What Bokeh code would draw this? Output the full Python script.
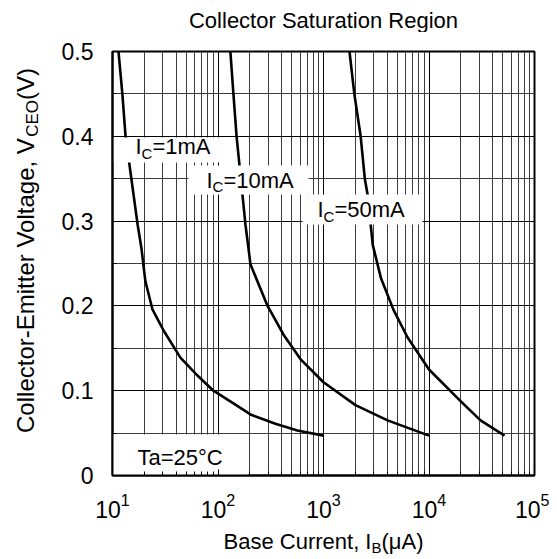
import math
from bokeh.plotting import figure
from bokeh.models import Range1d, FixedTicker, Label
from bokeh.layouts import row, column
from bokeh.embed import file_html
from bokeh.resources import INLINE

# ---- data (base current in uA, collector-emitter voltage in V) ----
ib_1mA = [11.4, 12.4, 13.3, 17.3, 18.8, 20.5, 23.9, 30.5, 44, 65, 90.5, 140, 203, 350, 566, 1000]
v_1mA = [0.5, 0.45, 0.4, 0.296, 0.268, 0.229, 0.196, 0.171, 0.139, 0.117, 0.100, 0.085, 0.072, 0.061, 0.053, 0.047]

ib_10mA = [131, 140, 150, 182, 194, 203, 295, 418, 607, 1000, 2010, 4050, 10000]
v_10mA = [0.5, 0.45, 0.4, 0.296, 0.269, 0.249, 0.200, 0.166, 0.137, 0.110, 0.083, 0.065, 0.047]

ib_50mA = [1763, 1960, 2250, 2470, 2620, 2930, 3500, 4620, 6250, 10000, 19800, 30800, 52000]
v_50mA = [0.5, 0.45, 0.4, 0.349, 0.331, 0.272, 0.233, 0.195, 0.163, 0.125, 0.088, 0.065, 0.047]

x_major = [10, 100, 1000, 10000, 100000]
x_minor = [m * 10 ** e for e in range(1, 5) for m in range(2, 10)]
y_major = [0, 0.1, 0.2, 0.3, 0.4, 0.5]
y_minor = [0.05, 0.15, 0.25, 0.35, 0.45]

FONT = "Liberation Sans"
FRAME_W, FRAME_H = 422, 424
X0, X1, Y0, Y1 = 10, 1e5, 0, 0.5
DEC = FRAME_W / math.log10(X1 / X0)

TITLE_H = 32         # title strip height
LEFT_W = 48          # width of the y-label strip
MAIN_LEFT = 64       # border left of the frame inside the main figure
TOP, RIGHT, BOTTOM = 19, 15, 55
MAIN_W = MAIN_LEFT + FRAME_W + RIGHT
XLAB_H = 26
TOTAL_W = LEFT_W + MAIN_W


def dx(fx):
    return X0 * 10 ** (fx / DEC)


def dy(fy):
    return Y0 + fy / FRAME_H * (Y1 - Y0)


# Arial / Liberation Sans advance widths (per 1000 em)
W = {' ': 278, ',': 278, '-': 333, '(': 333, ')': 333, '=': 584, '.': 278, '°': 400,
     'A': 667, 'B': 667, 'C': 722, 'E': 667, 'I': 278, 'O': 778, 'R': 722, 'S': 667,
     'T': 611, 'V': 667, 'a': 556, 'c': 500, 'e': 556, 'g': 556, 'i': 222, 'l': 222,
     'm': 833, 'n': 556, 'o': 556, 'r': 333, 's': 500, 't': 278, 'u': 556, 'μ': 576}
for d in "0123456789":
    W[d] = 556


def tw(s, size):
    return sum(W.get(c, 556) for c in s) * size / 1000


def total(parts):
    return sum(tw(t, s) for t, s, _ in parts)


def rich(fig, parts, fx, fy, angle=0.0, cx=lambda v: v, cy=lambda v: v):
    """Lay text pieces one after another; fy/fx give the middle line of the main text."""
    pos = 0.0
    for text, size, shift in parts:
        if angle == 0:
            x, y = fx + pos, fy - shift
        else:
            x, y = fx + shift, fy + pos
        fig.add_layout(Label(x=cx(x), y=cy(y), text=text, text_font=FONT,
                             text_font_size=f"{size}px", text_color="black",
                             text_align="left", text_baseline="middle",
                             angle=angle))
        pos += tw(text, size)


def blank(w, h, top=0, bottom=0):
    f = figure(frame_width=w, frame_height=h, x_range=Range1d(0, w), y_range=Range1d(0, h),
               min_border_left=0, min_border_right=0, min_border_top=top, min_border_bottom=bottom,
               x_axis_location=None, y_axis_location=None,
               output_backend="svg", toolbar_location=None)
    f.xgrid.visible = False
    f.ygrid.visible = False
    f.outline_line_color = None
    f.background_fill_color = "white"
    f.border_fill_color = "white"
    return f


# ---------------- main chart ----------------
p = figure(x_axis_type="log", x_range=Range1d(X0, X1), y_range=Range1d(Y0, Y1),
           frame_width=FRAME_W, frame_height=FRAME_H,
           min_border_left=MAIN_LEFT, min_border_right=RIGHT,
           min_border_top=TOP, min_border_bottom=BOTTOM,
           output_backend="svg", toolbar_location=None)

p.background_fill_color = "white"
p.border_fill_color = "white"
p.outline_line_color = "black"
p.outline_line_width = 2

p.xaxis.ticker = FixedTicker(ticks=x_major, minor_ticks=x_minor)
p.yaxis.ticker = FixedTicker(ticks=y_major, minor_ticks=y_minor)
p.yaxis.major_label_overrides = {0: "0"}
for ax in (p.xaxis, p.yaxis):
    ax.axis_line_color = "black"
    ax.axis_line_width = 2
    ax.major_tick_in = 6
    ax.major_tick_out = 0
    ax.minor_tick_in = 4
    ax.minor_tick_out = 0
    ax.major_tick_line_color = "black"
    ax.minor_tick_line_color = "black"
    ax.major_label_text_font = FONT
    ax.major_label_text_font_size = "23px"
    ax.major_label_text_color = "black"
p.xaxis.major_label_standoff = 17
p.yaxis.major_label_standoff = 19

p.xgrid.grid_line_color = "#000000"
p.xgrid.minor_grid_line_color = "#3c3c3c"
p.ygrid.grid_line_color = "#000000"
p.ygrid.minor_grid_line_color = "#3c3c3c"
for g in (p.xgrid, p.ygrid):
    g.grid_line_width = 1
    g.minor_grid_line_width = 1

for xs, ys in ((ib_1mA, v_1mA), (ib_10mA, v_10mA), (ib_50mA, v_50mA)):
    p.line(xs, ys, line_color="black", line_width=2.6, line_join="round")

# white label boxes (frame-relative pixel extents)
boxes = [(1, 116, 313, 338), (76, 196, 281, 310), (190, 310, 251, 281), (0, 135, 0, 41)]
p.quad(left=[dx(b[0]) for b in boxes], right=[dx(b[1]) for b in boxes],
       bottom=[dy(b[2]) for b in boxes], top=[dy(b[3]) for b in boxes],
       fill_color="white", line_color=None)

BIG, SUB, SH = 22, 15, 6.5
rich(p, [("I", BIG, 0), ("C", SUB, SH), ("=1mA", BIG, 0)], 23, 329, cx=dx, cy=dy)
rich(p, [("I", BIG, 0), ("C", SUB, SH), ("=10mA", BIG, 0)], 94, 295.5, cx=dx, cy=dy)
rich(p, [("I", BIG, 0), ("C", SUB, SH), ("=50mA", BIG, 0)], 205, 266, cx=dx, cy=dy)
rich(p, [("Ta=25°C", BIG, 0)], 25, 18, cx=dx, cy=dy)

# ---------------- title strip ----------------
frame_cx = LEFT_W + MAIN_LEFT + FRAME_W / 2
ttl = blank(TOTAL_W, TITLE_H)
ttl.add_layout(Label(x=frame_cx, y=TITLE_H - 20, text="Collector Saturation Region", text_font=FONT,
                     text_font_size="22px", text_color="black",
                     text_align="center", text_baseline="middle"))

# ---------------- y-axis label strip (frame aligned with main frame) ----------------
ylab = blank(LEFT_W, FRAME_H, top=TOP, bottom=BOTTOM)
yl = [("Collector-Emitter Voltage, V", 24, 0), ("CEO", 17, 6.5), ("(V)", 24, 0)]
rich(ylab, yl, 25, 225 - total(yl) / 2, angle=math.pi / 2)

# ---------------- x-axis label strip ----------------
xlab = blank(TOTAL_W, XLAB_H)
xl = [("Base Current, I", 22, 0), ("B", SUB, 6), ("(μA)", 22, 0)]
rich(xlab, xl, frame_cx - total(xl) / 2, 15)

layout = column(ttl, row(ylab, p, spacing=0), xlab, spacing=0)
open("out.html", "w").write(file_html(layout, INLINE))
